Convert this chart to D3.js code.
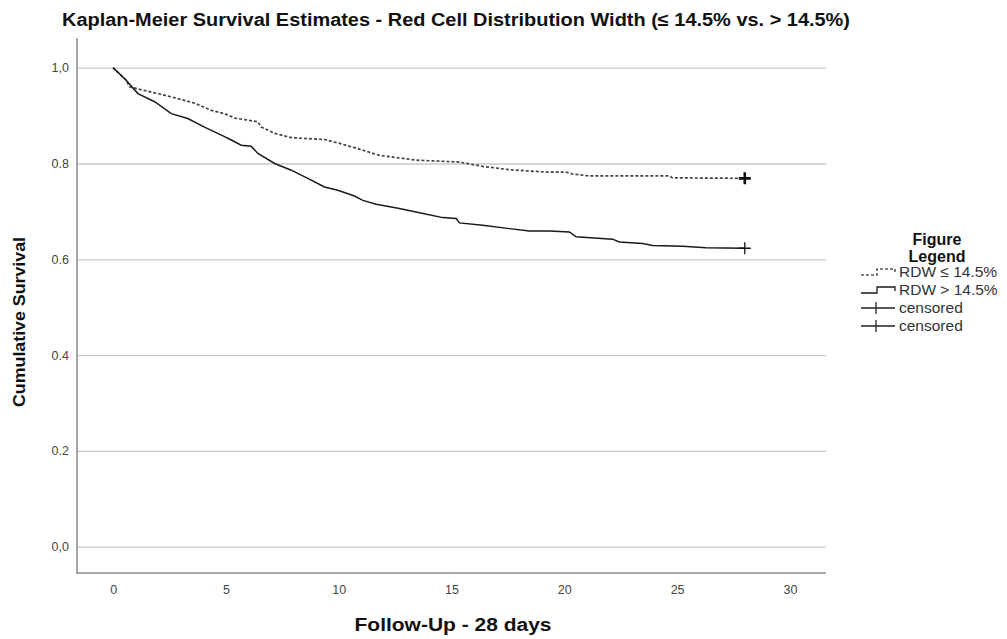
<!DOCTYPE html>
<html>
<head>
<meta charset="utf-8">
<script src="https://cdn.jsdelivr.net/npm/d3@7"></script>
<style>
  body { margin: 0; background: #fff; }
  svg { display: block; }
  text { font-family: Arial, 'Liberation Sans', sans-serif; }
</style>
</head>
<body>
<div id="chart"></div>
<script>
const chartTitle = 'Kaplan-Meier Survival Estimates - Red Cell Distribution Width (≤ 14.5% vs. > 14.5%)'
const xTitle = 'Follow-Up - 28 days'
const yTitle = 'Cumulative Survival'
const xTicks = [0, 5, 10, 15, 20, 25, 30]
const yTicks = [0, 0.2, 0.4, 0.6, 0.8, 1.0]
const yTickLabels = ['0,0', '0.2', '0.4', '0.6', '0.8', '1,0']
const seriesNames = ['RDW ≤ 14.5%', 'RDW > 14.5%']

// RDW <= 14.5% (dashed), corners
const lowTime = [0, 0.58, 0.73, 2.58, 3.61, 4.35, 4.94, 5.38, 6.42, 6.57, 7.16, 7.9, 9.37, 9.96, 10.7,
  11.81, 13.43, 15.35, 16.38, 17.57, 19.19, 20.08, 20.37, 21.11, 24.66, 24.8, 28]
const lowSurv = [1.0, 0.974, 0.96, 0.939, 0.926, 0.911, 0.904, 0.895, 0.887, 0.876, 0.863, 0.854, 0.85, 0.843, 0.833,
  0.817, 0.807, 0.803, 0.794, 0.787, 0.782, 0.782, 0.778, 0.774, 0.774, 0.77, 0.769]

// RDW > 14.5% (solid)
const highTime = [0, 0.58, 1.1, 1.84, 2.58, 3.31, 4.05, 4.94, 5.24, 5.68, 6.12, 6.42, 7.16, 7.9, 8.63, 9.37, 9.96,
  10.7, 11.07, 11.66, 12.69, 13.58, 14.61, 15.21, 15.35, 16.38, 17.57, 18.45, 19.34, 20.23, 20.52, 22.14, 22.44,
  23.47, 23.91, 25.25, 26.28, 28]
const highSurv = [1.0, 0.974, 0.946, 0.929, 0.904, 0.894, 0.876, 0.856, 0.849, 0.838, 0.836, 0.821, 0.8, 0.786, 0.769, 0.751, 0.744,
  0.732, 0.723, 0.715, 0.706, 0.697, 0.687, 0.685, 0.676, 0.671, 0.664, 0.659, 0.659, 0.657, 0.647, 0.642, 0.636,
  0.633, 0.629, 0.627, 0.624, 0.623]

const censorTime = [28, 28]

const W = 1007, H = 639
const plotLeft = 77, plotRight = 826, plotTop = 38, plotBottom = 573

const svg = d3.select('#chart').append('svg')
  .attr('width', W)
  .attr('height', H)

const x = d3.scaleLinear().domain([-1.6, 31.6]).range([plotLeft, plotRight])
const y = d3.scaleLinear().domain([-0.055, 1.062]).range([plotBottom, plotTop])

// title
svg.append('text')
  .attr('x', 456)
  .attr('y', 26)
  .attr('text-anchor', 'middle')
  .attr('font-size', 18)
  .attr('font-weight', 'bold')
  .attr('fill', '#111')
  .attr('textLength', 788)
  .attr('lengthAdjust', 'spacingAndGlyphs')
  .text(chartTitle)

// y axis with gridlines
const yAxis = d3.axisLeft(y)
  .tickValues(yTicks)
  .tickSize(-(plotRight - plotLeft))
  .tickPadding(8)
  .tickFormat((d, i) => yTickLabels[i])

const gy = svg.append('g')
  .attr('transform', `translate(${plotLeft},0)`)
  .call(yAxis)
gy.select('.domain').remove()
gy.selectAll('.tick line').attr('stroke', '#c8c8c8').attr('stroke-width', 1.3)
gy.selectAll('.tick text')
  .attr('font-size', 12.5)
  .attr('fill', '#444')
  .style('font-family', "Arial, 'Liberation Sans', sans-serif")

// x axis
const xAxis = d3.axisBottom(x)
  .tickValues(xTicks)
  .tickSize(0)
  .tickPadding(12)

const gx = svg.append('g')
  .attr('transform', `translate(0,${plotBottom})`)
  .call(xAxis)
gx.select('.domain').remove()
gx.selectAll('.tick text')
  .attr('font-size', 12.5)
  .attr('fill', '#444')
  .style('font-family', "Arial, 'Liberation Sans', sans-serif")

// frame lines
svg.append('path')
  .attr('d', `M${plotLeft},${plotTop}V${plotBottom}H${plotRight}`)
  .attr('fill', 'none')
  .attr('stroke', '#8c8c8c')
  .attr('stroke-width', 1.5)

// axis titles
svg.append('text')
  .attr('x', 453)
  .attr('y', 631)
  .attr('text-anchor', 'middle')
  .attr('font-size', 18)
  .attr('font-weight', 'bold')
  .attr('fill', '#111')
  .attr('textLength', 197)
  .attr('lengthAdjust', 'spacingAndGlyphs')
  .text(xTitle)

svg.append('text')
  .attr('transform', 'translate(25,322) rotate(-90)')
  .attr('text-anchor', 'middle')
  .attr('font-size', 17)
  .attr('font-weight', 'bold')
  .attr('fill', '#111')
  .attr('textLength', 170)
  .attr('lengthAdjust', 'spacingAndGlyphs')
  .text(yTitle)

// curves
const line = d3.line()
  .x(d => x(d[0]))
  .y(d => y(d[1]))

const lowPts = lowTime.map((t, i) => [t, lowSurv[i]])
const highPts = highTime.map((t, i) => [t, highSurv[i]])

svg.append('path')
  .datum(lowPts)
  .attr('d', line)
  .attr('fill', 'none')
  .attr('stroke', '#444')
  .attr('stroke-width', 1.7)
  .attr('stroke-dasharray', '3,2')

svg.append('path')
  .datum(highPts)
  .attr('d', line)
  .attr('fill', 'none')
  .attr('stroke', '#1a1a1a')
  .attr('stroke-width', 1.5)

// censor marks
const censorData = [
  { t: censorTime[0], s: lowSurv[lowSurv.length - 1], w: 2.6 },
  { t: censorTime[1], s: highSurv[highSurv.length - 1], w: 1.3 }
]
svg.selectAll('.censor')
  .data(censorData)
  .enter()
  .append('path')
  .attr('class', 'censor')
  .attr('d', d => `M${x(d.t) - 6},${y(d.s)}h12M${x(d.t)},${y(d.s) - 6}v12`)
  .attr('stroke', '#111')
  .attr('stroke-width', d => d.w)
  .attr('fill', 'none')

// legend
const lg = svg.append('g')
lg.append('text')
  .attr('x', 937).attr('y', 245)
  .attr('text-anchor', 'middle')
  .attr('font-size', 16).attr('font-weight', 'bold').attr('fill', '#111')
  .text('Figure')
lg.append('text')
  .attr('x', 937).attr('y', 262)
  .attr('text-anchor', 'middle')
  .attr('font-size', 16).attr('font-weight', 'bold').attr('fill', '#111')
  .text('Legend')

const legendItems = [seriesNames[0], seriesNames[1], 'censored', 'censored']
const rowY = [272, 290, 308, 326]

lg.selectAll('.lt')
  .data(legendItems)
  .enter()
  .append('text')
  .attr('class', 'lt')
  .attr('x', 899)
  .attr('y', (d, i) => rowY[i] + 5)
  .attr('font-size', 15.5)
  .attr('fill', '#333')
  .text(d => d)

// legend symbols
lg.append('path')
  .attr('d', `M861,${rowY[0] + 3}H877V${rowY[0] - 3}H895V${rowY[0] + 1}`)
  .attr('fill', 'none').attr('stroke', '#555').attr('stroke-width', 1.5)
  .attr('stroke-dasharray', '3,2')
lg.append('path')
  .attr('d', `M861,${rowY[1] + 3}H877V${rowY[1] - 3}H895V${rowY[1] + 1}`)
  .attr('fill', 'none').attr('stroke', '#1a1a1a').attr('stroke-width', 1.3)
;[2, 3].forEach(i => {
  lg.append('path')
    .attr('d', `M861,${rowY[i]}H895M876,${rowY[i] - 6}v12`)
    .attr('fill', 'none').attr('stroke', '#222').attr('stroke-width', 1.3)
})
</script>
</body>
</html>
